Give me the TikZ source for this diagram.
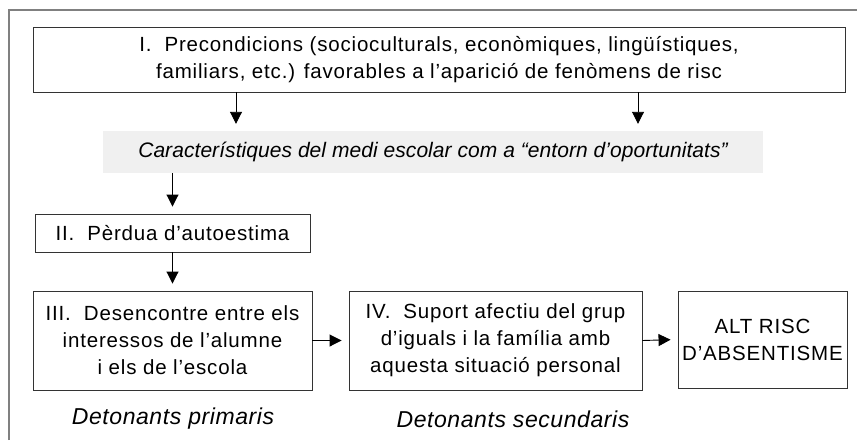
\documentclass[tikz,border=0pt]{standalone}
\usepackage{fontspec}
\setmainfont{Liberation Sans}
\usetikzlibrary{arrows.meta}
\begin{document}
\begin{tikzpicture}[x=1pt,y=-1pt,
  box/.style={draw=black!80,line width=0.9pt,align=center,inner sep=0pt,
    font=\fontsize{20.5}{27}\selectfont\addfontfeatures{LetterSpace=4}},
  band/.style={fill=black!6,draw=none,align=center,inner sep=0pt,
    font=\fontsize{21}{27}\selectfont\itshape\addfontfeatures{LetterSpace=0.3}},
  lab/.style={inner sep=0pt,font=\fontsize{23}{27}\selectfont\itshape\addfontfeatures{LetterSpace=2.5}},
  arr/.style={line width=0.9pt,-{Triangle[width=12pt,length=12pt]},shorten >=7pt}]
\useasboundingbox (0,0) rectangle (857,440);
% outer frame (left and top visible)
\draw[black!50,line width=1.2pt] (9,440) -- (9,10) -- (857,10);
\node[box,minimum width=812pt,minimum height=65pt] (I) at (439,59.5)
  {I.\ \ Precondicions (socioculturals, econòmiques, lingüístiques,\\familiars, etc.) favorables a l’aparició de fenòmens de risc};
\node[band,minimum width=660pt,minimum height=42pt] (G) at (433,152)
  {Característiques del medi escolar com a “entorn d’oportunitats”};
\node[box,minimum width=275pt,minimum height=38pt] (II) at (172.5,233)
  {II.\ \ Pèrdua d’autoestima};
\node[box,minimum width=279pt,minimum height=99pt] (III) at (172.5,340.5)
  {III.\ \ Desencontre entre els\\interessos de l’alumne\\i els de l’escola};
\node[box,minimum width=293pt,minimum height=99pt] (IV) at (495.5,340.5)
  {IV.\ \ Suport afectiu del grup\\d’iguals i la família amb\\aquesta situació personal};
\node[box,minimum width=169pt,minimum height=97pt] (ALT) at (762.5,339.5)
  {ALT RISC\\D’ABSENTISME};
\node[lab] (P) at (173,419) {Detonants primaris};
\node[lab] (S) at (513,419) {Detonants secundaris};
\coordinate (a1) at (236,0);
\coordinate (a2) at (638,0);
\draw[arr] (I.south -| a1) -- (G.north -| a1);
\draw[arr] (I.south -| a2) -- (G.north -| a2);
\draw[arr] (G.south -| II) -- (II.north);
\draw[arr] (II) -- (III);
\draw[arr] (III.east) -- (IV.west);
\draw[arr] (IV.east) -- (ALT.west);
\end{tikzpicture}
\end{document}
